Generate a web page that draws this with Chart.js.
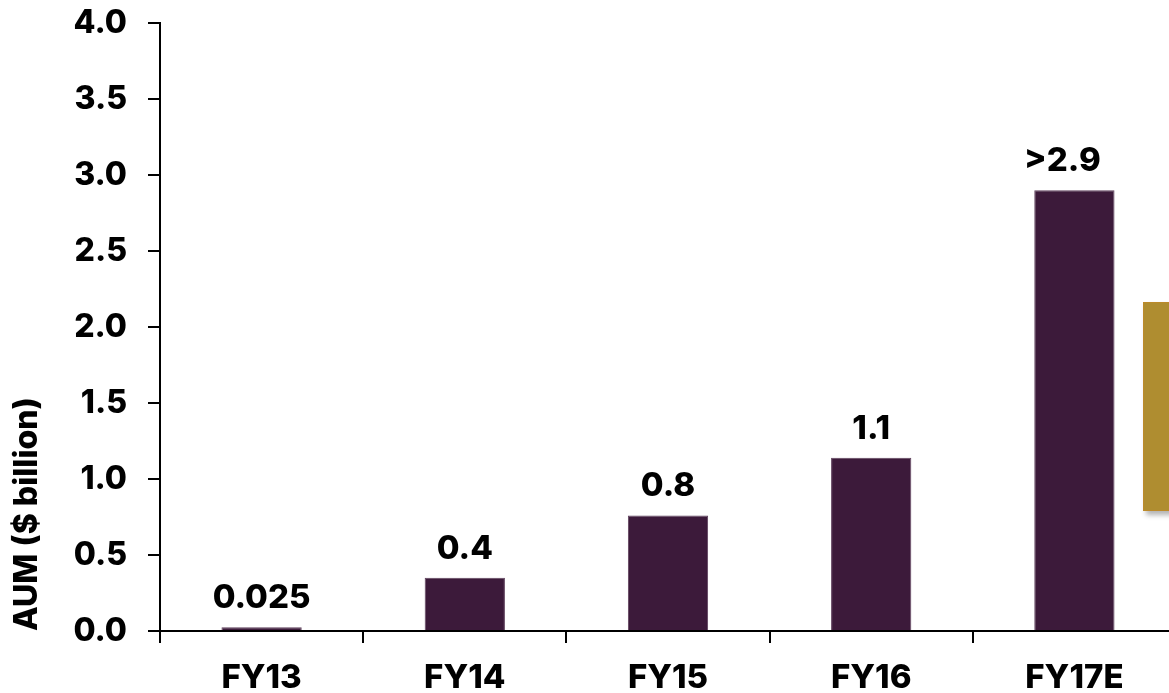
<!DOCTYPE html>
<html>
<head>
<meta charset="utf-8">
<script src="https://cdn.jsdelivr.net/npm/chart.js@4.4.1/dist/chart.umd.min.js"></script>
<style>
  html, body { margin: 0; padding: 0; background: #fff; overflow: hidden; }
  #wrap { position: relative; width: 1176px; height: 693px; }
  #callout {
    position: absolute; left: 1143px; top: 302px; width: 40px; height: 207px;
    background: #AF8D30; border: 1px solid #BC8A2A;
    box-shadow: 3px 4px 5px rgba(0,0,0,0.3);
  }
</style>
</head>
<body>
<div id="wrap">
  <canvas id="aumChart"></canvas>
  <div id="callout"></div>
</div>
<script>
// AUM by fiscal year
const years      = ['FY13', 'FY14', 'FY15', 'FY16', 'FY17E'];
const aumValues  = [0.025, 0.35, 0.76, 1.14, 2.9];
const aumLabels  = ['0.025', '0.4', '0.8', '1.1', '>2.9'];
const yTicks     = [0, 0.5, 1, 1.5, 2, 2.5, 3, 3.5, 4];

const FONT = 'Inter';

// value labels above each bar
const barLabels = {
  id: 'barLabels',
  afterDatasetsDraw(chart) {
    const { ctx } = chart;
    const meta = chart.getDatasetMeta(0);
    ctx.save();
    ctx.font = `800 33px ${FONT}`;
    ctx.fillStyle = '#000';
    ctx.textAlign = 'center';
    ctx.textBaseline = 'alphabetic';
    meta.data.forEach((bar, i) => {
      ctx.fillText(aumLabels[i], bar.x - (i === 4 ? 12 : 0), bar.y - 19);
    });
    ctx.restore();
  }
};

document.addEventListener('DOMContentLoaded', () => {
  const ctx = document.getElementById('aumChart').getContext('2d');
  new Chart(ctx, {
    type: 'bar',
    data: {
      labels: years,
      datasets: [{
        label: 'AUM',
        data: aumValues,
        backgroundColor: '#3C1A3A',
        borderColor: '#5E405C',
        borderWidth: 1,
        barPercentage: 0.5,
        categoryPercentage: 0.79,
      }]
    },
    options: {
      responsive: true,
      maintainAspectRatio: false,
      animation: false,
      layout: { padding: { top: 23, right: 0, left: 0, bottom: 0 } },
      plugins: {
        legend: { display: false },
        tooltip: { enabled: false }
      },
      scales: {
        x: {
          grid: {
            display: true, drawOnChartArea: false, drawTicks: true,
            tickLength: 12, color: '#000', lineWidth: 2, offset: true
          },
          border: { display: true, color: '#000', width: 2 },
          ticks: {
            color: '#000', padding: 15,
            font: { family: FONT, size: 33, weight: 800 }
          },
          afterFit(scale) { scale.height = 62; }
        },
        y: {
          min: 0, max: 4,
          afterBuildTicks(scale) { scale.ticks = yTicks.map(v => ({ value: v })); },
          grid: {
            display: true, drawOnChartArea: false, drawTicks: true,
            tickLength: 12, color: '#000', lineWidth: 2
          },
          border: { display: true, color: '#000', width: 2 },
          ticks: {
            color: '#000', padding: 21,
            font: { family: FONT, size: 32, weight: 800 },
            callback: v => v.toFixed(1)
          },
          title: {
            display: true, text: 'AUM ($ billion)', align: 'start',
            color: '#000', padding: { top: 8, bottom: 0 },
            font: { family: FONT, size: 32, weight: 800 }
          },
          afterFit(scale) {
            scale.width = 160;
            scale.paddingTop = 0;
            scale.paddingBottom = 0;
          }
        }
      }
    },
    plugins: [barLabels]
  });
});
</script>
</body>
</html>
